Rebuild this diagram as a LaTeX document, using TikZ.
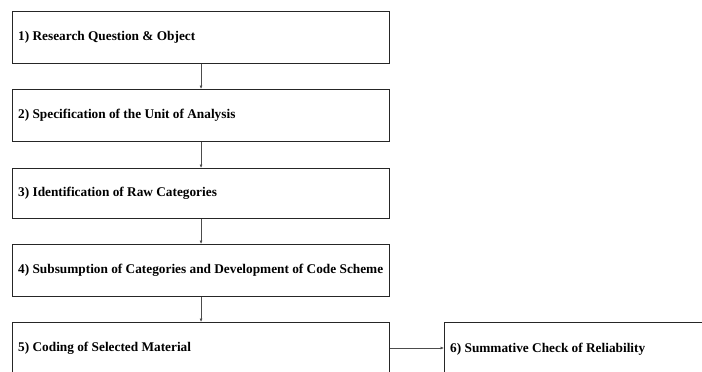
\documentclass[tikz,border=0pt]{standalone}
\usepackage{fontspec}
\setmainfont{Liberation Serif}
\usetikzlibrary{arrows.meta}
\begin{document}
\begin{tikzpicture}[x=1pt,y=-1pt,
  stepbox/.style={draw=black!85,line width=1.1pt,rectangle,inner sep=0pt,anchor=north west},
  lbl/.style={anchor=west,inner sep=0pt,font=\bfseries\fontsize{13.3}{15}\selectfont},
  conn/.style={draw=black!70,line width=0.6pt,-{Latex[length=3.5pt,width=3pt]}}]
\useasboundingbox (0,0) rectangle (702,372);
\clip (0,0) rectangle (702,372);
\node[stepbox,minimum width=377pt,minimum height=52pt] (b1) at (12,11) {};
\node[stepbox,minimum width=377pt,minimum height=52pt] (b2) at (12,89) {};
\node[stepbox,minimum width=377pt,minimum height=50pt] (b3) at (12,168) {};
\node[stepbox,minimum width=377pt,minimum height=52pt] (b4) at (12,244) {};
\node[stepbox,minimum width=377pt,minimum height=54pt] (b5) at (12,322) {};
\node[stepbox,minimum width=270pt,minimum height=56pt] (b6) at (444,322) {};
\node[lbl] (t1) at (18,37) {1) Research Question \& Object};
\node[lbl] (t2) at (18,115) {2) Specification of the Unit of Analysis};
\node[lbl] (t3) at (18,193) {3) Identification of Raw Categories};
\node[lbl] (t4) at (18,270) {4) Subsumption of Categories and Development of Code Scheme};
\node[lbl] (t5) at (18,348) {5) Coding of Selected Material};
\node[lbl] (t6) at (450,349) {6) Summative Check of Reliability};
\draw[conn] (b1.south) -- (b2.north);
\draw[conn] (b2.south) -- (b3.north);
\draw[conn] (b3.south) -- (b4.north);
\draw[conn] (b4.south) -- (b5.north);
\draw[conn] (b5.east |- t5.west) -- (b6.west |- t5.west);
\end{tikzpicture}
\end{document}
